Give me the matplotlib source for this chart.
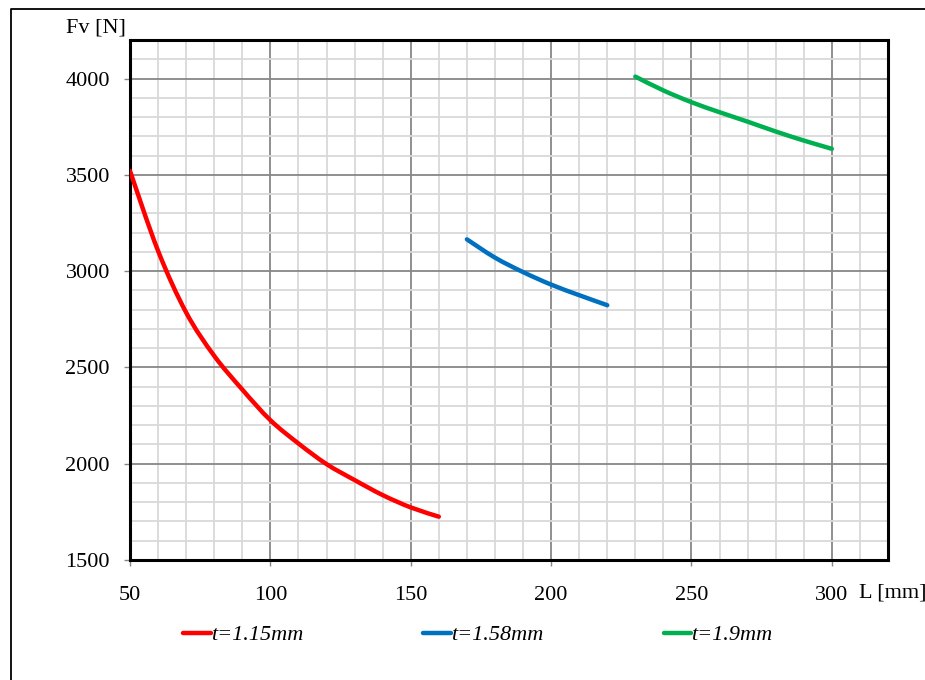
import matplotlib
matplotlib.use("Agg")
import numpy as np
import matplotlib.pyplot as plt
from matplotlib.lines import Line2D
from matplotlib.path import Path
from matplotlib.patches import PathPatch
from matplotlib.ticker import MultipleLocator

# Vertical force Fv [N] against length L [mm] for three sheet thicknesses
L_115 = [50, 60, 70, 80, 90, 100, 110, 120, 130, 140, 150, 160]
F_115 = [3520, 3105, 2785, 2560, 2385, 2226, 2105, 1998, 1915, 1837, 1773, 1725]

L_158 = [170, 180, 190, 200, 210, 220]
F_158 = [3165, 3070, 2995, 2930, 2875, 2823]

L_190 = [230, 240, 250, 260, 270, 280, 290, 300]
F_190 = [4010, 3938, 3877, 3825, 3776, 3725, 3678, 3635]

series_labels = ["t=1.15mm", "t=1.58mm", "t=1.9mm"]
series_colors = ["#FF0000", "#0070C0", "#00B050"]

FS = 16
plt.rcParams["font.family"] = ["Liberation Serif", "DejaVu Serif"]


def smooth_path(xs, ys):
    """Catmull-Rom spline through the points, expressed as cubic Bezier segments."""
    p = np.column_stack([xs, ys]).astype(float)
    n = len(p)
    verts = [p[0]]
    codes = [Path.MOVETO]
    for i in range(n - 1):
        p0 = p[i - 1] if i > 0 else p[i]
        p1, p2 = p[i], p[i + 1]
        p3 = p[i + 2] if i + 2 < n else p[i + 1]
        c1 = p1 + (p2 - p0) / 6.0
        c2 = p2 - (p3 - p1) / 6.0
        verts += [c1, c2, p2]
        codes += [Path.CURVE4] * 3
    return Path(verts, codes)


fig = plt.figure(figsize=(9.25, 6.8), dpi=100)
ax = fig.add_axes([130 / 925, 1 - 560 / 680, 758 / 925, 520 / 680])

for xs, ys, col in zip([L_115, L_158, L_190], [F_115, F_158, F_190], series_colors):
    ax.add_patch(PathPatch(smooth_path(xs, ys), facecolor="none", edgecolor=col,
                           lw=3.2, capstyle="round", zorder=3))

ax.set_xlim(50, 320)
ax.set_ylim(1500, 4200)
ax.xaxis.set_minor_locator(MultipleLocator(10))
ax.yaxis.set_major_locator(MultipleLocator(500))
ax.yaxis.set_minor_locator(MultipleLocator(100))
ax.set_xticks([50, 100, 150, 200, 250, 300])

ax.grid(which="minor", color="#d9d9d9", lw=1.3, zorder=0)
ax.grid(which="major", color="#878787", lw=1.3, zorder=1)
ax.set_axisbelow(True)

ax.tick_params(which="major", length=4.5, width=1, color="#878787",
               labelsize=FS, labelcolor="black")
ax.tick_params(axis="x", pad=14)
ax.tick_params(axis="y", pad=10)
ax.tick_params(which="minor", length=0)

for sp in ax.spines.values():
    sp.set_linewidth(2.2)
    sp.set_color("black")

fig.text(96 / 925, 1 - 28 / 680, "Fv [N]", ha="center", va="center", fontsize=FS)
fig.text(893 / 925, 1 - 593 / 680, "L [mm]", ha="center", va="center", fontsize=FS)

handles = [Line2D([0], [0], color=c, lw=3.2, solid_capstyle="round")
           for c in series_colors]
fig.legend(handles, series_labels, loc="center", bbox_to_anchor=(478 / 925, 1 - 635 / 680),
           ncol=3, frameon=False, handlelength=1.25, handletextpad=0.0,
           columnspacing=5.4,
           prop={"family": ["Liberation Serif"], "style": "italic", "size": FS})

# outer frame around the figure
fig.add_artist(Line2D([11 / 925, 11 / 925, 1.0], [0.0, 1 - 9 / 680, 1 - 9 / 680],
                      transform=fig.transFigure, color="black", lw=1.3))

fig.savefig("out.png", dpi=100)
